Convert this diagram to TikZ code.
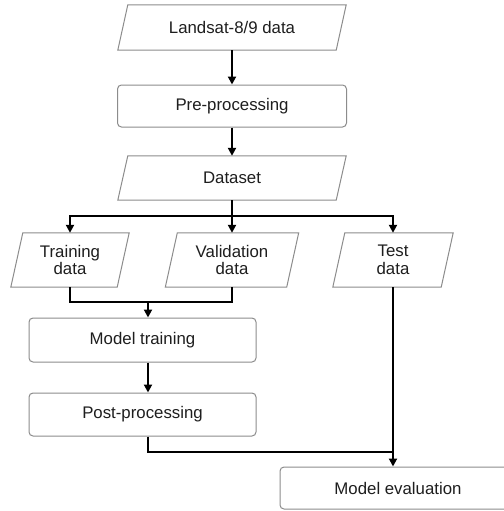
\documentclass[tikz,border=0pt]{standalone}
\usepackage{fontspec}
\setmainfont{Liberation Sans}
\usetikzlibrary{arrows.meta}
\definecolor{bordc}{HTML}{8C8C8C}
\definecolor{txtc}{HTML}{1E1E1E}
\newcommand\fsz{\fontsize{16.8}{17.5}\selectfont}
\begin{document}
\begin{tikzpicture}[x=1pt,y=-1pt,
  box/.style={draw=bordc, line width=1pt, rounded corners=4pt, inner sep=0pt, font=\fsz, text=txtc},
  io/.style={inner sep=0pt, font=\fsz, text=txtc, align=center},
  con/.style={line width=2pt, -{Triangle[length=8pt,width=8pt]}},
  wire/.style={line width=2pt},
  bord/.style={draw=bordc, line width=1pt}]
\useasboundingbox (0,0) rectangle (503,511);
\fill[white] (0,0) rectangle (503,511);
% nodes
\node[io, minimum width=218pt, minimum height=45pt] (ls) at (232,27.5) {Landsat-8/9 data};
\node[box, minimum width=229pt, minimum height=42pt] (pp) at (232,106) {Pre-processing};
\node[io, minimum width=218pt, minimum height=44pt] (ds) at (232,178) {Dataset};
\node[io, minimum width=106pt, minimum height=54pt] (tr) at (70,260) {Training\\data};
\node[io, minimum width=121pt, minimum height=54pt] (va) at (232,260) {Validation\\data};
\node[io, minimum width=108pt, minimum height=54pt] (te) at (393,260) {Test\\data};
\node[box, minimum width=227pt, minimum height=44pt] (mt) at (142.5,340) {Model training};
\node[box, minimum width=227pt, minimum height=43pt] (pt) at (142.5,414.5) {Post-processing};
\node[box, minimum width=236pt, minimum height=42pt] (me) at (398,488) {Model evaluation};
% parallelogram outlines
\foreach \n/\s in {ls/5,ds/5,tr/6,va/6,te/6}{
  \draw[bord] ([xshift=-\s pt]\n.south west) -- ([xshift=\s pt]\n.north west)
    -- ([xshift=\s pt]\n.north east) -- ([xshift=-\s pt]\n.south east) -- cycle;
}
% junction coordinates
\coordinate (br) at (232,216);
\coordinate (mg) at (148,302);
\coordinate (jn) at (148,452);
% connectors
\draw[con] (ls) -- (pp);
\draw[con] (pp) -- (ds);
\draw[wire] (ds) -- (br);
\draw[con] (br) -| (tr.north);
\draw[con] (br) -| (te.north);
\draw[con] (br) -- (va.north);
\draw[wire] (tr.south) |- (mg) -| (va.south);
\draw[con] (mg) -- (mt.north -| mg);
\draw[con] (mt.south -| mg) -- (pt.north -| mg);
\draw[wire] (pt.south -| jn) |- (te.south |- jn);
\draw[con] (te.south) -- (me.north -| te.south);
\end{tikzpicture}
\end{document}
